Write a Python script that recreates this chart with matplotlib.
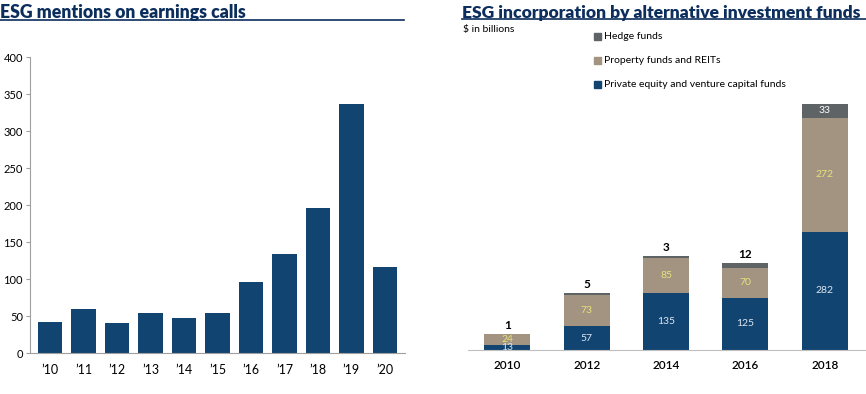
import numpy as np
import matplotlib
matplotlib.use("Agg")
import matplotlib.pyplot as plt
from matplotlib.lines import Line2D
from matplotlib.patches import Rectangle

plt.rcParams['font.family'] = ['Lato', 'DejaVu Sans']

# Left chart data
mention_years = ["\u201910", "\u201911", "\u201912", "\u201913", "\u201914", "\u201915",
                 "\u201916", "\u201917", "\u201918", "\u201919", "\u201920"]
mentions = [42, 60, 41, 54, 48, 54, 96, 134, 196, 337, 116]

# Right chart data ($ in billions)
fund_years = ["2010", "2012", "2014", "2016", "2018"]
private_equity = [13, 57, 135, 125, 282]
property_funds = [24, 73, 85, 70, 272]
hedge_funds = [1, 5, 3, 12, 33]

navy = "#114471"
taupe = "#A39482"
grey = "#5E6366"
title_col = "#0C2E5C"

fig = plt.figure(figsize=(8.66, 3.94), dpi=100)

# titles with underline
fig.text(0.0, 0.968, "ESG mentions on earnings calls", fontsize=12.7, fontweight='heavy',
         color=title_col, va='center', ha='left')
fig.add_artist(Line2D([0.0, 0.467], [0.949, 0.949], color=title_col, lw=1.2))
fig.text(0.534, 0.968, "ESG incorporation by alternative investment funds", fontsize=12.6,
         fontweight='heavy', color=title_col, va='center', ha='left')
fig.add_artist(Line2D([0.533, 1.0], [0.951, 0.951], color=title_col, lw=1.2))
fig.text(0.535, 0.924, "$ in billions", fontsize=7.5, color='black', va='center')

# ---- left chart
ax1 = fig.add_axes([0.0346, 0.104, 0.433, 0.751])
x1 = np.arange(len(mentions))
ax1.bar(x1, mentions, width=0.73, color=navy)
ax1.set_xlim(-0.6, len(mentions) - 0.4)
ax1.set_ylim(0, 400)
ax1.set_yticks(range(0, 401, 50))
ax1.set_xticks(x1)
ax1.set_xticklabels(mention_years, fontsize=9)
ax1.tick_params(axis='x', length=0, pad=8)
ax1.tick_params(axis='y', labelsize=8, length=3, color='#A0A0A0', pad=2)
for s in ['top', 'right']:
    ax1.spines[s].set_visible(False)
ax1.spines['left'].set_color('#A0A0A0')
ax1.spines['bottom'].set_color('#A0A0A0')

# ---- right chart
ax2 = fig.add_axes([0.540, 0.1117, 0.460, 0.743])
x2 = np.arange(len(fund_years))
pe = np.array(private_equity)
pr = np.array(property_funds)
hf = np.array(hedge_funds)
w = 0.58
ax2.bar(x2, pe, width=w, color=navy)
ax2.bar(x2, pr, width=w, bottom=pe, color=taupe)
ax2.bar(x2, hf, width=w, bottom=pe + pr, color=grey)
ax2.set_xlim(-0.5, 4.52)
ax2.set_ylim(0, 698)
ax2.set_yticks([])
ax2.set_xticks(x2)
ax2.set_xticklabels(fund_years, fontsize=8.5, fontweight='semibold')
ax2.tick_params(axis='x', length=0, pad=7)
for s in ['top', 'right', 'left']:
    ax2.spines[s].set_visible(False)
ax2.spines['bottom'].set_color('#BFBFBF')

for i in range(len(fund_years)):
    ax2.text(x2[i], pe[i] / 2, str(pe[i]), ha='center', va='center',
             fontsize=7.5, color='#DDE6F0')
    ax2.text(x2[i], pe[i] + pr[i] / 2, str(pr[i]), ha='center', va='center',
             fontsize=7.5, color='#E8E07A')
    top = pe[i] + pr[i] + hf[i]
    if hf[i] > 20:
        ax2.text(x2[i], pe[i] + pr[i] + hf[i] / 2, str(hf[i]), ha='center',
                 va='center', fontsize=7.5, color='white')
    else:
        ax2.text(x2[i], top + 8, str(hf[i]), ha='center', va='bottom',
                 fontsize=8.5, fontweight='bold', color='black')

# legend
leg_items = [("Hedge funds", grey), ("Property funds and REITs", taupe),
             ("Private equity and venture capital funds", navy)]
for k, (lab, col) in enumerate(leg_items):
    y = 0.908 - k * 0.061
    fig.add_artist(Rectangle((0.686, y - 0.009), 0.0075, 0.018, color=col,
                             transform=fig.transFigure))
    fig.text(0.697, y, lab, fontsize=7.5, va='center', ha='left')

fig.savefig("out.png", dpi=100)
